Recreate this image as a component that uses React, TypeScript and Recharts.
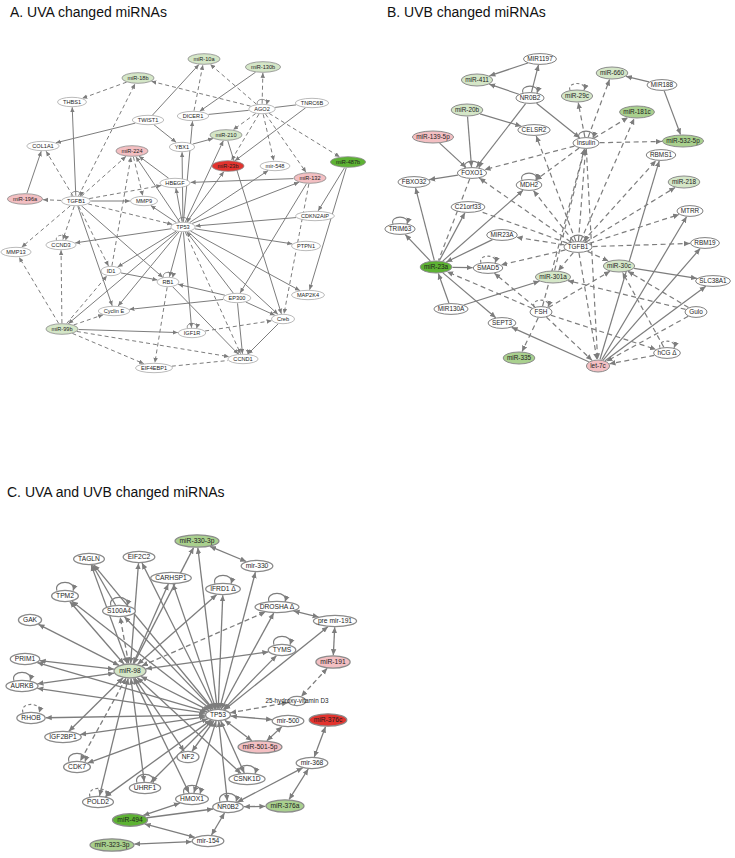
import React from 'react';
import { ScatterChart, Scatter, XAxis, YAxis, ReferenceLine } from 'recharts';

const W = 735;
const H = 858;

type NodeRow = [string, number, number, string];
type EdgeRow = [string, string, string];
type LoopRow = [string, string];

// ---------- Panel A: UVA ----------
const titleA = 'A. UVA changed miRNAs';
const nodesA: NodeRow[] = [
  ['miR-18b', 138, 78, 'lg'], ['THBS1', 72, 102, 'w'], ['TWIST1', 148, 120, 'w'], ['COL1A1', 43, 146, 'w'],
  ['miR-224', 132, 151, 'pk'], ['HBEGF', 175, 183, 'w'], ['miR-196a', 25, 199, 'pk'], ['TGFB1', 76, 201, 'w'],
  ['MMP9', 144, 201, 'w'], ['YBX1', 182, 147, 'w'], ['miR-10a', 204, 59, 'lg'], ['miR-130b', 263, 67, 'lg'],
  ['DICER1', 193, 116, 'w'], ['AGO2', 262, 109, 'w'], ['TNRC6B', 312, 103, 'w'], ['miR-210', 226, 135, 'lg'],
  ['miR-23b', 228, 166, 'rd'], ['mir-548', 275, 166, 'w'], ['miR-487b', 348, 162, 'dg'], ['miR-132', 310, 178, 'pk'],
  ['CDKN2AIP', 315, 216, 'w'], ['TP53', 183, 227, 'w'], ['MMP13', 16, 252, 'w'], ['CCND3', 61, 245, 'w'],
  ['ID1', 111, 271, 'w'], ['RB1', 168, 282, 'w'], ['Cyclin E', 114, 311, 'w'], ['miR-99b', 62, 329, 'lg'],
  ['EIF4EBP1', 154, 368, 'w'], ['PTPN1', 306, 246, 'w'], ['MAP2K4', 308, 295, 'w'], ['EP300', 237, 298, 'w'],
  ['Creb', 283, 319, 'w'], ['IGF1R', 192, 333, 'w'], ['CCND1', 243, 359, 'w'],
];
const edgesA: EdgeRow[] = [
  ['TGFB1', 'miR-196a', 'd'], ['miR-196a', 'COL1A1', 's'], ['TGFB1', 'COL1A1', 'd'], ['TGFB1', 'THBS1', 's'],
  ['TGFB1', 'miR-18b', 'd'], ['TGFB1', 'miR-224', 'd'], ['TGFB1', 'HBEGF', 'd'], ['TGFB1', 'MMP9', 's'],
  ['TGFB1', 'TP53', 'd'], ['TGFB1', 'CCND3', 'd'], ['TGFB1', 'MMP13', 'd'], ['TGFB1', 'ID1', 'd'],
  ['TGFB1', 'RB1', 's'], ['TGFB1', 'Cyclin E', 's'], ['miR-224', 'MMP9', 'd'], ['HBEGF', 'miR-224', 's'],
  ['TWIST1', 'COL1A1', 's'], ['TWIST1', 'YBX1', 's'], ['TWIST1', 'miR-10a', 's'], ['AGO2', 'miR-18b', 'd'],
  ['miR-18b', 'THBS1', 'd'], ['DICER1', 'miR-10a', 'd'], ['AGO2', 'miR-10a', 'd'], ['AGO2', 'miR-130b', 'd'],
  ['miR-130b', 'DICER1', 's'], ['DICER1', 'AGO2', 'l'], ['AGO2', 'TNRC6B', 'l'], ['AGO2', 'miR-210', 'd'],
  ['AGO2', 'miR-23b', 'd'], ['AGO2', 'mir-548', 'd'], ['AGO2', 'miR-132', 'd'], ['AGO2', 'miR-487b', 'd'],
  ['TNRC6B', 'miR-23b', 's'], ['YBX1', 'miR-210', 's'], ['TP53', 'DICER1', 's'], ['TP53', 'YBX1', 's'],
  ['TP53', 'miR-210', 's'], ['TP53', 'miR-23b', 's'], ['TP53', 'mir-548', 's'], ['TP53', 'miR-132', 's'],
  ['miR-132', 'HBEGF', 's'], ['TP53', 'HBEGF', 's'], ['TP53', 'miR-224', 's'], ['TP53', 'MMP9', 's'],
  ['miR-210', 'Creb', 's'], ['miR-487b', 'CDKN2AIP', 's'], ['miR-487b', 'MAP2K4', 's'], ['CDKN2AIP', 'TP53', 's'],
  ['miR-132', 'Creb', 'd'], ['miR-132', 'EP300', 's'], ['TP53', 'PTPN1', 's'], ['TP53', 'MAP2K4', 's'],
  ['TP53', 'Creb', 's'], ['TP53', 'CCND1', 'd'], ['TP53', 'CCND3', 's'], ['TP53', 'ID1', 's'],
  ['TP53', 'RB1', 's'], ['TP53', 'Cyclin E', 's'], ['TP53', 'IGF1R', 's'], ['EP300', 'TP53', 's'],
  ['miR-99b', 'MMP13', 'd'], ['miR-99b', 'CCND3', 'd'], ['miR-99b', 'ID1', 'd'], ['miR-99b', 'Cyclin E', 'd'],
  ['TP53', 'miR-99b', 's'], ['miR-99b', 'IGF1R', 's'], ['miR-99b', 'CCND1', 'd'], ['miR-99b', 'EIF4EBP1', 'd'],
  ['ID1', 'RB1', 's'], ['EP300', 'Cyclin E', 's'], ['EP300', 'RB1', 's'], ['EP300', 'CCND1', 's'],
  ['EP300', 'Creb', 's'], ['Creb', 'CCND1', 's'], ['IGF1R', 'Creb', 'd'], ['RB1', 'EIF4EBP1', 'd'],
  ['EIF4EBP1', 'CCND1', 'dl'], ['RB1', 'CCND1', 's'], ['ID1', 'miR-224', 'd'],
];
const loopsA: LoopRow[] = [
  ['TGFB1', 's'], ['AGO2', 's'], ['TP53', 's'], ['CCND3', 'd'], ['RB1', 's'], ['IGF1R', 's'], ['CCND1', 'd'],
];

// ---------- Panel B: UVB ----------
const titleB = 'B. UVB changed miRNAs';
const nodesB: NodeRow[] = [
  ['MIR1197', 540, 59, 'w'], ['miR-411', 477, 80, 'lg'], ['NR0B2', 530, 98, 'w'], ['miR-20b', 467, 110, 'lg'],
  ['CELSR2', 534, 130, 'w'], ['miR-139-5p', 433, 137, 'pk'], ['FOXO1', 472, 173, 'w'], ['FBXO32', 414, 182, 'w'],
  ['MDH2', 529, 185, 'w'], ['C21orf33', 468, 207, 'w'], ['TRIM63', 400, 229, 'w'], ['miR-29c', 577, 96, 'lg'],
  ['miR-660', 612, 73, 'lg'], ['MIR188', 662, 85, 'w'], ['miR-181c', 637, 112, 'mg'], ['Insulin', 586, 143, 'w'],
  ['miR-532-5p', 683, 141, 'mg'], ['RBMS1', 661, 155, 'w'], ['miR-218', 684, 182, 'lg'], ['MTRR', 690, 211, 'w'],
  ['MIR23A', 502, 235, 'w'], ['miR-23a', 436, 267, 'dg'], ['SMAD5', 488, 268, 'w'], ['miR-301a', 553, 277, 'lg'],
  ['MIR130A', 451, 309, 'w'], ['FSH', 541, 312, 'w'], ['SEPT3', 502, 323, 'w'], ['miR-335', 519, 358, 'mg'],
  ['TGFB1', 578, 247, 'w'], ['RBM19', 705, 243, 'w'], ['miR-30c', 619, 266, 'lg'], ['SLC38A1', 713, 281, 'w'],
  ['Gulo', 696, 312, 'w'], ['hCG Δ', 667, 353, 'w'], ['let-7c', 598, 366, 'pk'],
];
const edgesB: EdgeRow[] = [
  ['NR0B2', 'MIR1197', 's'], ['MIR1197', 'miR-411', 's'], ['NR0B2', 'miR-411', 's'], ['NR0B2', 'FOXO1', 's'],
  ['NR0B2', 'Insulin', 's'], ['miR-20b', 'FOXO1', 's'], ['miR-20b', 'CELSR2', 's'], ['miR-139-5p', 'FOXO1', 's'],
  ['FOXO1', 'FBXO32', 's'], ['Insulin', 'FOXO1', 'd'], ['FOXO1', 'miR-23a', 'dl'], ['miR-23a', 'FBXO32', 's'],
  ['miR-23a', 'TRIM63', 's'], ['miR-23a', 'MDH2', 's'], ['miR-23a', 'C21orf33', 's'], ['MIR23A', 'miR-23a', 's'],
  ['miR-23a', 'SMAD5', 's'], ['MIR130A', 'miR-23a', 's'], ['MIR130A', 'miR-301a', 's'], ['miR-23a', 'SEPT3', 's'],
  ['FSH', 'miR-23a', 'd'], ['FSH', 'SMAD5', 'd'], ['FSH', 'miR-335', 'd'], ['TGFB1', 'SMAD5', 'd'],
  ['TGFB1', 'MIR23A', 'd'], ['TGFB1', 'C21orf33', 'dl'], ['TGFB1', 'FOXO1', 'd'], ['TGFB1', 'MDH2', 'd'],
  ['TGFB1', 'CELSR2', 'd'], ['Insulin', 'MDH2', 'd'], ['Insulin', 'miR-29c', 'd'], ['Insulin', 'miR-660', 'd'],
  ['Insulin', 'miR-181c', 'd'], ['Insulin', 'miR-532-5p', 'd'], ['MIR188', 'miR-660', 's'], ['MIR188', 'miR-532-5p', 's'],
  ['TGFB1', 'Insulin', 'd'], ['FSH', 'Insulin', 'd'], ['miR-301a', 'Insulin', 'd'], ['TGFB1', 'RBMS1', 'd'],
  ['TGFB1', 'miR-218', 'd'], ['TGFB1', 'MTRR', 'd'], ['TGFB1', 'RBM19', 'd'], ['TGFB1', 'miR-30c', 'd'],
  ['TGFB1', 'miR-301a', 'd'], ['TGFB1', 'let-7c', 'd'], ['TGFB1', 'miR-181c', 'd'], ['miR-30c', 'SLC38A1', 's'],
  ['let-7c', 'RBMS1', 's'], ['let-7c', 'MTRR', 's'], ['let-7c', 'RBM19', 's'], ['let-7c', 'SLC38A1', 's'],
  ['Gulo', 'miR-30c', 'd'], ['Gulo', 'miR-301a', 'd'], ['Gulo', 'let-7c', 'd'], ['hCG Δ', 'let-7c', 'd'],
  ['hCG Δ', 'miR-30c', 'd'], ['FSH', 'hCG Δ', 'd'], ['FSH', 'let-7c', 'd'], ['FSH', 'miR-30c', 'd'],
  ['let-7c', 'SEPT3', 's'], ['Insulin', 'let-7c', 'd'],
];
const loopsB: LoopRow[] = [
  ['NR0B2', 's'], ['FOXO1', 's'], ['MDH2', 's'], ['Insulin', 's'], ['miR-29c', 'd'], ['TRIM63', 's'],
  ['SMAD5', 'd'], ['FSH', 'd'], ['TGFB1', 's'], ['hCG Δ', 'd'],
];

// ---------- Panel C: UVA and UVB ----------
const titleC = 'C. UVA and UVB changed miRNAs';
const nodesC: NodeRow[] = [
  ['miR-330-3p', 197, 541, 'mg'], ['mir-330', 257, 566, 'w'], ['TAGLN', 89, 559, 'w'], ['EIF2C2', 139, 557, 'w'],
  ['CARHSP1', 171, 578, 'w'], ['IFRD1 Δ', 223, 589, 'w'], ['TPM2', 65, 596, 'w'], ['S100A4', 119, 611, 'w'],
  ['DROSHA Δ', 277, 607, 'w'], ['pre mir-191', 335, 621, 'w'], ['GAK', 30, 620, 'w'], ['TYMS', 282, 650, 'w'],
  ['miR-191', 333, 662, 'pk'], ['PRIM1', 25, 659, 'w'], ['miR-98', 130, 671, 'lg'], ['AURKB', 22, 686, 'w'],
  ['RHOB', 31, 718, 'w'], ['IGF2BP1', 63, 737, 'w'], ['CDK7', 77, 767, 'w'], ['UHRF1', 145, 788, 'w'],
  ['POLD2', 98, 802, 'w'], ['miR-494', 130, 820, 'dg'], ['miR-323-3p', 112, 845, 'mg'],
  ['25-hydroxy-vitamin D3', 297, 701, 'txt'], ['TP53', 218, 715, 'w'], ['mir-500', 288, 721, 'w'],
  ['miR-376c', 328, 720, 'rd'], ['miR-501-5p', 260, 747, 'pk'], ['NF2', 188, 757, 'w'], ['mir-368', 312, 763, 'w'],
  ['CSNK1D', 247, 779, 'w'], ['HMOX1', 192, 799, 'w'], ['NR0B2', 228, 807, 'w'], ['miR-376a', 285, 806, 'mg'],
  ['mir-154', 208, 841, 'w'],
];
const edgesC: EdgeRow[] = [
  ['TP53', 'TAGLN', 'b'], ['TP53', 'EIF2C2', 'b'], ['TP53', 'CARHSP1', 'b'], ['TP53', 'IFRD1 Δ', 'b'],
  ['TP53', 'miR-330-3p', 'b'], ['TP53', 'mir-330', 'b'], ['TP53', 'DROSHA Δ', 'b'], ['TP53', 'TYMS', 'b'],
  ['TP53', 'pre mir-191', 'b'], ['TP53', 'S100A4', 'b'], ['TP53', 'TPM2', 'b'], ['TP53', 'PRIM1', 'b'],
  ['TP53', 'AURKB', 'b'], ['TP53', 'RHOB', 'b'], ['TP53', 'IGF2BP1', 'b'], ['TP53', 'CDK7', 'b'],
  ['TP53', 'POLD2', 'b'], ['TP53', 'UHRF1', 'b'], ['TP53', 'NF2', 'b'], ['TP53', 'HMOX1', 'b'],
  ['TP53', 'NR0B2', 'b'], ['TP53', 'CSNK1D', 'b'], ['TP53', 'mir-500', 'b'], ['TP53', 'miR-501-5p', 'b'],
  ['TP53', '25-hydroxy-vitamin D3', 'db'], ['TP53', 'miR-98', 'b'],
  ['miR-98', 'TAGLN', 'b'], ['miR-98', 'EIF2C2', 'b'], ['miR-98', 'S100A4', 'db'], ['miR-98', 'TPM2', 'b'],
  ['miR-98', 'GAK', 'b'], ['miR-98', 'PRIM1', 'b'], ['miR-98', 'AURKB', 'b'], ['miR-98', 'IGF2BP1', 'b'],
  ['miR-98', 'CDK7', 'db'], ['miR-98', 'POLD2', 'b'], ['miR-98', 'UHRF1', 'b'], ['miR-98', 'HMOX1', 'b'],
  ['miR-98', 'CARHSP1', 'b'], ['miR-98', 'IFRD1 Δ', 'b'], ['miR-98', 'DROSHA Δ', 'db'], ['miR-98', 'TYMS', 'b'],
  ['miR-98', 'CSNK1D', 'b'], ['miR-98', 'miR-330-3p', 'b'], ['miR-98', 'NF2', 'b'], ['S100A4', 'TAGLN', 's'],
  ['miR-330-3p', 'mir-330', 'b'], ['DROSHA Δ', 'pre mir-191', 'b'], ['pre mir-191', 'miR-191', 'b'],
  ['miR-191', '25-hydroxy-vitamin D3', 'db'], ['mir-500', 'miR-501-5p', 'b'], ['miR-376c', 'mir-368', 'b'],
  ['mir-368', 'miR-376a', 'b'], ['mir-368', 'NR0B2', 'b'], ['NR0B2', 'miR-376a', 'b'], ['NR0B2', 'mir-154', 'b'],
  ['miR-494', 'HMOX1', 'b'], ['miR-494', 'NR0B2', 's'], ['mir-154', 'miR-494', 'b'], ['miR-323-3p', 'mir-154', 'b'],
];
const loopsC: LoopRow[] = [
  ['TPM2', 's'], ['S100A4', 's'], ['IFRD1 Δ', 's'], ['DROSHA Δ', 's'], ['TYMS', 's'], ['AURKB', 's'],
  ['RHOB', 'd'], ['CDK7', 's'], ['POLD2', 'd'], ['UHRF1', 's'], ['HMOX1', 's'], ['NR0B2', 's'], ['CSNK1D', 's'],
];

// ---------- styling (kept apart from data) ----------
const FILLS: Record<string, string> = {
  w: '#ffffff', txt: '#ffffff', lg: '#d4e6c7', mg: '#a9d08e', dg: '#5db233', pk: '#f3bfc2', rd: '#e2332e',
};
const EDGE = '#7d7d7d';
const FONT = '"Liberation Sans", Arial, Helvetica, sans-serif';

const PANELS = [
  { id: 'A', title: titleA, nodes: nodesA, edges: edgesA, loops: loopsA, fs: 5.6, ry: 4.7, pad: 5.5, minRx: 10, sw: 1, dash: '4 3', ah: 5, la: 4.5, lh: 7, nsw: 0.8, nstroke: '#a8a8a8' },
  { id: 'B', title: titleB, nodes: nodesB, edges: edgesB, loops: loopsB, fs: 6.4, ry: 5.4, pad: 3.8, minRx: 11, sw: 1.2, dash: '5 3.5', ah: 6, la: 7, lh: 9, nsw: 1, nstroke: '#808080' },
  { id: 'C', title: titleC, nodes: nodesC, edges: edgesC, loops: loopsC, fs: 6.7, ry: 5.6, pad: 4.5, minRx: 11, sw: 1.3, dash: '5 3', ah: 6, la: 8, lh: 11, nsw: 1.3, nstroke: '#8a8a8a' },
];

let ctx: CanvasRenderingContext2D | null = null;
function textW(s: string, fs: number): number {
  if (typeof document !== 'undefined') {
    if (!ctx) ctx = document.createElement('canvas').getContext('2d');
    if (ctx) {
      ctx.font = `${fs}px ${FONT}`;
      return ctx.measureText(s).width;
    }
  }
  return s.length * fs * 0.55;
}

interface NodeItem {
  key: string; label: string; x: number; y: number; kind: string;
  rx: number; ry: number; fs: number; nsw: number; nstroke: string;
}

function buildNodes(p: typeof PANELS[number]): NodeItem[] {
  return p.nodes.map(([label, x, y, kind]) => {
    const tw = textW(label, p.fs);
    let rx = Math.max(p.minRx, tw / 2 + p.pad);
    let ry = p.ry + (kind === 'w' ? 0 : 0.6);
    if (kind === 'txt') { rx = 9; ry = 4.6; }
    if (p.id === 'C' && label === 'miR-98') { rx = 16; ry = 7; }
    if (p.id === 'C' && label === 'miR-494') { rx = 17.5; ry = 6.3; }
    return { key: p.id + ':' + label, label, x, y, kind, rx, ry, fs: kind === 'txt' ? 6.3 : p.fs, nsw: p.nsw, nstroke: p.nstroke };
  });
}

function border(n: NodeItem, dx: number, dy: number, gap: number) {
  const t = 1 / Math.sqrt((dx / n.rx) ** 2 + (dy / n.ry) ** 2);
  return { x: n.x + dx * (t + gap), y: n.y + dy * (t + gap) };
}

const NodeShape = (props: any) => {
  const { cx, cy } = props;
  const n: NodeItem = props.payload ?? props;
  if (cx == null || cy == null) return <g />;
  return (
    <g>
      <ellipse cx={cx} cy={cy} rx={n.rx} ry={n.ry} fill={FILLS[n.kind]} stroke={n.kind === 'w' || n.kind === 'txt' ? n.nstroke : '#8c8c8c'} strokeWidth={n.nsw} />
      <text x={cx} y={cy} dy="0.35em" textAnchor="middle" fontSize={n.fs} fontFamily={FONT} fill="#1e1e1e">
        {n.label}
      </text>
    </g>
  );
};

const LoopShape = (props: any) => {
  const { cx, cy } = props;
  const d = props.payload ?? props;
  if (cx == null || cy == null) return <g />;
  const top = cy - d.ry + 0.3;
  const a = d.a;
  const path = `M${cx - a},${top} C${cx - a * 1.5},${top - d.h} ${cx + a * 1.5},${top - d.h} ${cx + a},${top}`;
  return (
    <path d={path} fill="none" stroke={EDGE} strokeWidth={d.sw} strokeDasharray={d.dashed ? '3 2.5' : undefined} markerEnd={`url(#ah${d.panel})`} />
  );
};

export default function App() {
  const panelData = PANELS.map((p) => {
    const nodes = buildNodes(p);
    const map = new Map(nodes.map((n) => [n.label, n]));
    const edges = p.edges
      .map(([s, t, style], i) => {
        const a = map.get(s);
        const b = map.get(t);
        if (!a || !b) return null;
        const len = Math.hypot(b.x - a.x, b.y - a.y) || 1;
        const ux = (b.x - a.x) / len;
        const uy = (b.y - a.y) / len;
        const p1 = border(a, ux, uy, 0.6);
        const p2 = border(b, -ux, -uy, 0.6);
        return {
          id: `${p.id}-${i}`,
          p1, p2,
          dashed: style.startsWith('d'),
          end: style === 's' || style === 'd' || style === 'b' || style === 'db',
          start: style === 'b' || style === 'db',
        };
      })
      .filter(Boolean) as any[];
    const loops = p.loops
      .map(([label, style]) => {
        const n = map.get(label);
        if (!n) return null;
        return { x: n.x, y: n.y, ry: n.ry, a: p.la, h: p.lh, sw: p.sw * 0.9, dashed: style === 'd', panel: p.id };
      })
      .filter(Boolean) as any[];
    return { p, nodes, edges, loops };
  });

  const titleStyle = (left: number, top: number): React.CSSProperties => ({
    position: 'absolute', left, top, fontFamily: FONT, fontSize: 14, lineHeight: '14px', color: '#111', whiteSpace: 'nowrap',
  });

  return (
    <div style={{ position: 'absolute', left: 0, top: 0, width: W, height: H, background: '#fff' }}>
      <ScatterChart width={W} height={H} margin={{ top: 0, right: 0, bottom: 0, left: 0 }}>
        <defs>
          {PANELS.map((p) => (
            <marker key={p.id} id={`ah${p.id}`} viewBox="0 0 10 10" refX="10" refY="5" markerWidth={p.ah} markerHeight={p.ah} markerUnits="userSpaceOnUse" orient="auto-start-reverse">
              <path d="M0,0.5 L10,5 L0,9.5 z" fill={EDGE} />
            </marker>
          ))}
        </defs>
        <XAxis type="number" dataKey="x" domain={[0, W]} hide allowDataOverflow />
        <YAxis type="number" dataKey="y" domain={[0, H]} reversed hide allowDataOverflow />
        {panelData.flatMap(({ p, edges }) =>
          edges.map((e) => (
            <ReferenceLine
              key={e.id}
              segment={[{ x: e.p1.x, y: e.p1.y }, { x: e.p2.x, y: e.p2.y }]}
              stroke={EDGE}
              strokeWidth={p.sw}
              strokeDasharray={e.dashed ? p.dash : undefined}
              markerEnd={e.end ? `url(#ah${p.id})` : undefined}
              markerStart={e.start ? `url(#ah${p.id})` : undefined}
              ifOverflow="visible"
            />
          ))
        )}
        {panelData.map(({ p, loops }) => (
          <Scatter key={'loops' + p.id} data={loops} shape={<LoopShape />} isAnimationActive={false} />
        ))}
        {panelData.map(({ p, nodes }) => (
          <Scatter key={'nodes' + p.id} data={nodes} shape={<NodeShape />} isAnimationActive={false} />
        ))}
      </ScatterChart>
      <div style={titleStyle(10, 5)}>{titleA}</div>
      <div style={titleStyle(387, 5)}>{titleB}</div>
      <div style={titleStyle(7, 485)}>{titleC}</div>
    </div>
  );
}
